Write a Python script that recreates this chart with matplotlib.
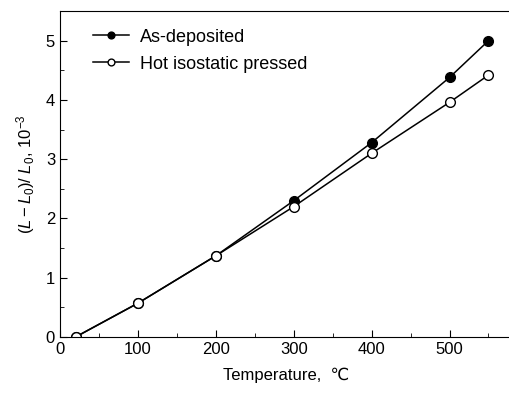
import matplotlib
matplotlib.use('Agg')
import matplotlib.pyplot as plt
from matplotlib.ticker import MultipleLocator

plt.rcParams['font.family'] = ['Liberation Sans', 'DejaVu Sans']
plt.rcParams['mathtext.fontset'] = 'custom'
plt.rcParams['mathtext.rm'] = 'Liberation Sans'
plt.rcParams['mathtext.it'] = 'Liberation Sans:italic'

# Datos
temperatura = [20, 100, 200, 300, 400, 500, 550]
as_deposited = [0.0, 0.57, 1.37, 2.30, 3.28, 4.38, 5.0]
hip = [0.0, 0.57, 1.37, 2.20, 3.10, 3.96, 4.42]
etiquetas = ['As-deposited', 'Hot isostatic pressed']

fig = plt.figure(figsize=(5.1, 3.96), dpi=100)
ax = fig.add_axes([0.1176, 0.149, 0.886, 0.823])

ax.plot(temperatura, as_deposited, '-o', color='black', lw=1.1,
        markersize=7, markerfacecolor='black', label=etiquetas[0])
ax.plot(temperatura, hip, '-o', color='black', lw=1.1,
        markersize=7, markerfacecolor='white', label=etiquetas[1])

ax.set_xlim(0, 580)
ax.set_ylim(0, 5.5)
ax.xaxis.set_major_locator(MultipleLocator(100))
ax.xaxis.set_minor_locator(MultipleLocator(50))
ax.yaxis.set_major_locator(MultipleLocator(1))
ax.yaxis.set_minor_locator(MultipleLocator(0.5))
ax.tick_params(which='both', direction='in', labelsize=12)
ax.tick_params(which='major', length=5)
ax.tick_params(which='minor', length=3)
# el borde derecho queda cortado en la figura original
ax.spines['right'].set_visible(False)

ax.set_xlabel('Temperature,  \u2103', fontsize=12, labelpad=8)
ax.set_ylabel(r'$(L-L_0)/\ L_0$, 10$^{-3}$', fontsize=12, labelpad=6)

leg = ax.legend(loc='upper left', frameon=False, fontsize=13,
                handlelength=2.0, handletextpad=0.6, markerscale=0.7,
                borderaxespad=0.3, labelspacing=0.55,
                bbox_to_anchor=(0.045, 0.985))

fig.savefig('out.png', dpi=100)
